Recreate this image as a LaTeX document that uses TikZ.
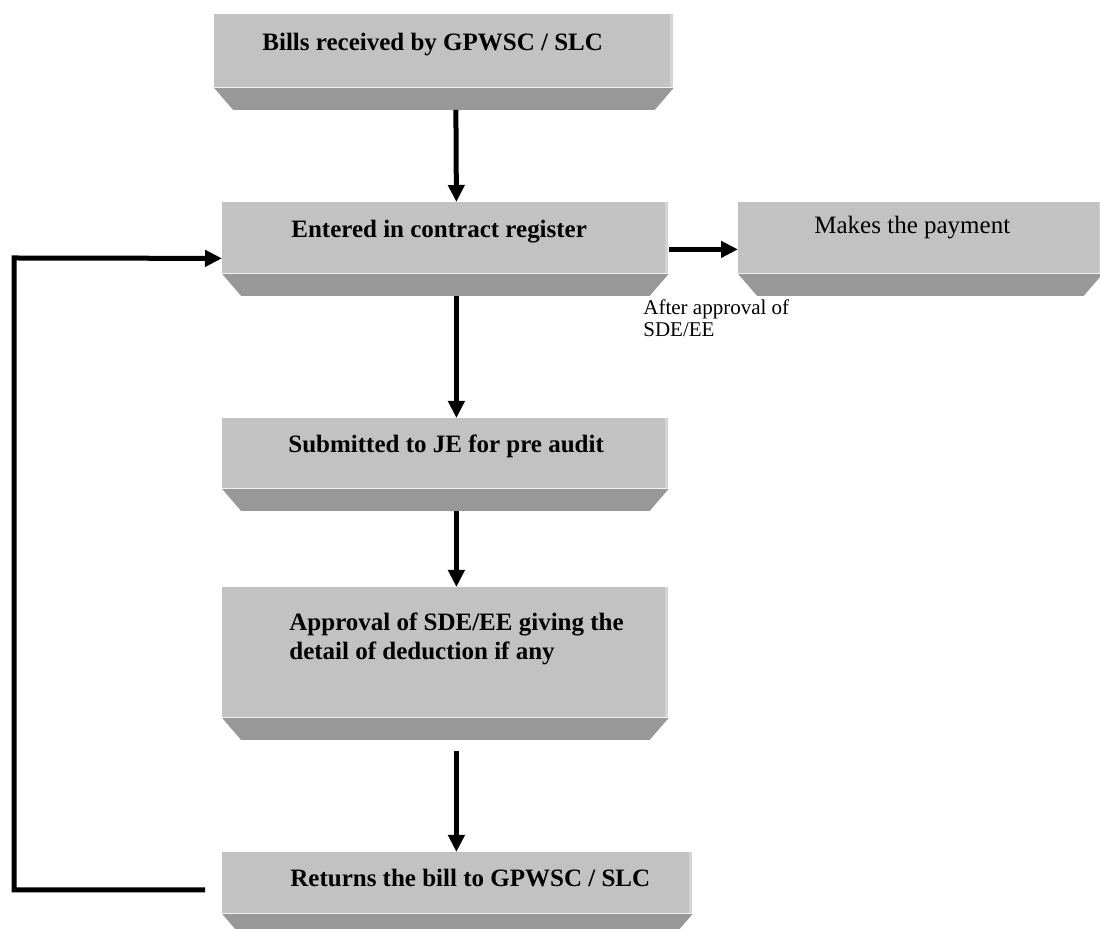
\documentclass[tikz,border=0pt]{standalone}
\usepackage{fontspec}
\setmainfont{Liberation Serif}
\usetikzlibrary{arrows.meta,calc}
\definecolor{facegray}{RGB}{194,194,194}
\definecolor{bevelgray}{RGB}{152,152,152}
\definecolor{edgegray}{RGB}{212,212,212}
\tikzset{
  box/.style={rectangle, fill=facegray, anchor=north west, inner sep=0pt,
    path picture={\fill[edgegray] ([xshift=-1.5pt]path picture bounding box.north east) rectangle (path picture bounding box.south east);}},
  boxtext/.style={anchor=base west, inner sep=0pt, font=\fontsize{12.5}{14.5}\selectfont\bfseries},
  flow/.style={line width=2.5pt, -{Triangle[length=8.5pt,width=8pt]}},
}
\newcommand{\bevel}[1]{\fill[bevelgray] (#1.south west) -- (#1.south east) -- ++(-19,22) -- ($(#1.south west)+(19,22)$) -- cycle;}
\begin{document}
\begin{tikzpicture}[x=0.5pt,y=-0.5pt]
\useasboundingbox (0,0) rectangle (1100,929);
\node[box, minimum width=229.5pt, minimum height=36.5pt] (bills) at (214,14) {};
\node[box, minimum width=223pt, minimum height=35.5pt] (entered) at (222,202) {};
\node[box, minimum width=182pt, minimum height=35.5pt] (pay) at (738,202) {};
\node[box, minimum width=223pt, minimum height=35pt] (submit) at (222,418) {};
\node[box, minimum width=223pt, minimum height=65pt] (approval) at (222,587) {};
\node[box, minimum width=235pt, minimum height=30.5pt] (returns) at (222,852) {};
\foreach \b in {bills,entered,pay,submit,approval,returns} {\bevel{\b}}
\node[boxtext] (billsT) at (262,51) {Bills received by GPWSC / SLC};
\node[boxtext] (enteredT) at (291,238) {Entered in contract register};
\node[boxtext, font=\fontsize{12.5}{14.5}\selectfont] (payT) at (814,234) {Makes the payment};
\node[boxtext] (submitT) at (288,453) {Submitted to JE for pre audit};
\node[boxtext, align=left, font=\fontsize{12.5}{14.5}\selectfont\bfseries] (approvalT) at (289,660) {Approval of SDE/EE giving the\\detail of deduction if any};
\node[boxtext] (returnsT) at (290,887) {Returns the bill to GPWSC / SLC};
\node[anchor=base west, inner sep=0pt, align=left, font=\fontsize{10.5}{11}\selectfont] (afterT) at (643,337) {After approval of\\SDE/EE};
\coordinate (back) at (205,890);
\draw[flow] ([xshift=6pt,yshift=-11pt]bills.south) -- ([xshift=5.5pt]entered.north);
\draw[flow] ([xshift=5.5pt,yshift=-11pt]entered.south) -- ([xshift=5.5pt]submit.north);
\draw[flow] ([xshift=5.5pt,yshift=-11pt]submit.south) -- ([xshift=5.5pt]approval.north);
\draw[flow] ([xshift=5.5pt,yshift=-16.5pt]approval.south) -- ([xshift=-0.5pt]returns.north);
\draw[flow] ($(entered.east)+(0,11.5)$) -- ($(pay.west)+(0,11.5)$);
\draw[flow] (back) -- (14,890) -- (14,258) -- ($(entered.west)+(0,20.5)$);
\end{tikzpicture}
\end{document}
